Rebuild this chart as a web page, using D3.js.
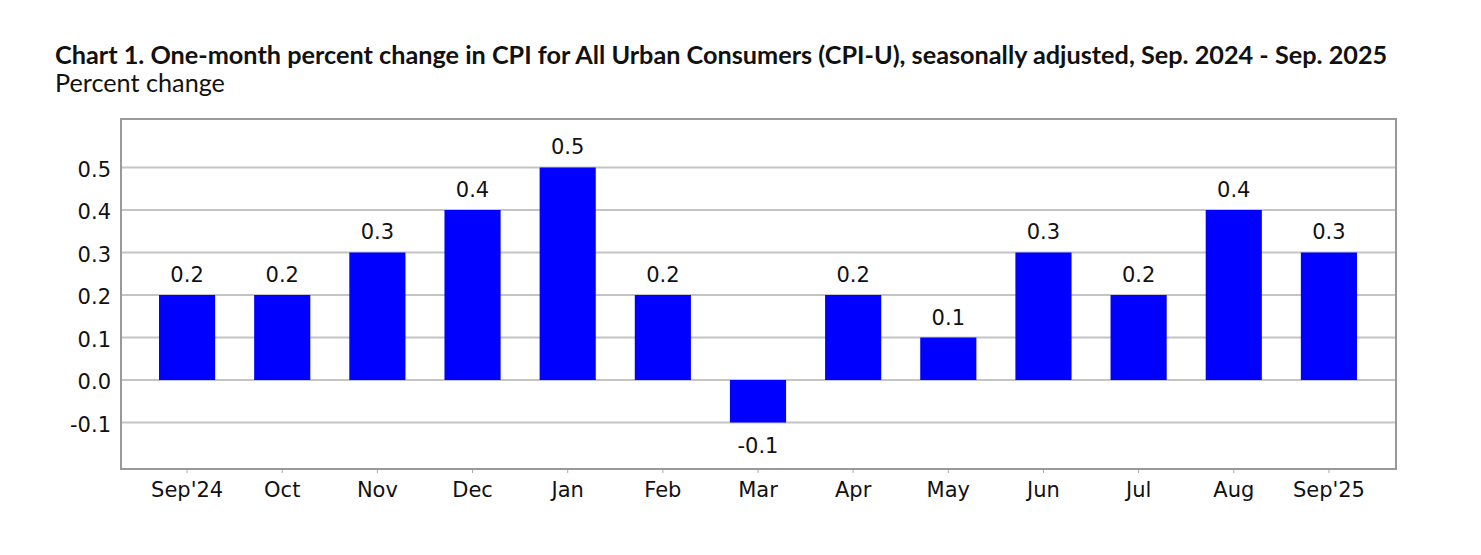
<!DOCTYPE html>
<html>
<head>
<meta charset="utf-8">
<script src="https://cdn.jsdelivr.net/npm/d3@7"></script>
<style>
  body { margin: 0; background: #fff; }
</style>
</head>
<body>
<div id="viz"></div>
<script>
const months = ["Sep'24", "Oct", "Nov", "Dec", "Jan", "Feb", "Mar", "Apr", "May", "Jun", "Jul", "Aug", "Sep'25"];
const values = [0.2, 0.2, 0.3, 0.4, 0.5, 0.2, -0.1, 0.2, 0.1, 0.3, 0.2, 0.4, 0.3];
const yTicks = [-0.1, 0.0, 0.1, 0.2, 0.3, 0.4, 0.5];

function draw() {
  let width = 1481, height = 555;
  let plotL = 121, plotR = 1396, plotT = 119, plotB = 469;
  let font = "DejaVu Sans", fsize = "21px";

  let svg = d3.select("#viz").append("svg")
    .attr("width", width).attr("height", height);

  let x = d3.scaleBand().domain(months)
    .range([139.5, 1376.5]).paddingInner(0.41).paddingOuter(0.205);
  // 0.1 = 42.5px, 0.0 at y=380
  let y = d3.scaleLinear().domain([-0.2094, 0.6141]).range([plotB, plotT]);

  // title, fitted to the reference width
  let title = svg.append("text").text("Chart 1. One-month percent change in CPI for All Urban Consumers (CPI-U), seasonally adjusted, Sep. 2024 - Sep. 2025")
    .attr("x", 55).attr("y", 64)
    .style("font-family", "Lato")
    .style("font-weight", "bold")
    .style("font-size", "20px")
    .style("fill", "#111");
  let tw = title.node().getComputedTextLength();
  title.style("font-size", (20 * 1333 / tw) + "px");

  let sub = svg.append("text").text("Percent change")
    .attr("x", 55).attr("y", 92)
    .style("font-family", "Lato")
    .style("font-size", "20px")
    .style("fill", "#111");
  let sw = sub.node().getComputedTextLength();
  sub.style("font-size", (20 * 170 / sw) + "px");

  // gridlines
  svg.append("g").selectAll("line").data(yTicks).join("line")
    .attr("x1", plotL).attr("x2", plotR)
    .attr("y1", d => y(d)).attr("y2", d => y(d))
    .attr("stroke", "#c4c4c4").attr("stroke-width", 2);

  // bars
  svg.append("g").selectAll("rect").data(values).join("rect")
    .attr("x", (d, i) => x(months[i]))
    .attr("width", x.bandwidth())
    .attr("y", d => y(Math.max(0, d)))
    .attr("height", d => Math.abs(y(d) - y(0)))
    .style("fill", "#0000ff");

  // value labels
  svg.append("g").selectAll("text").data(values).join("text")
    .text(d => d.toFixed(1))
    .attr("x", (d, i) => x(months[i]) + x.bandwidth() / 2)
    .attr("y", d => d >= 0 ? y(d) - 13 : y(d) + 30)
    .attr("text-anchor", "middle")
    .style("font-family", font)
    .style("font-size", fsize)
    .style("fill", "#111");

  // plot border
  svg.append("rect")
    .attr("x", plotL).attr("y", plotT)
    .attr("width", plotR - plotL).attr("height", plotB - plotT)
    .style("fill", "none")
    .attr("stroke", "#999").attr("stroke-width", 2);

  // y axis labels
  let yAxis = d3.axisLeft(y).tickValues(yTicks).tickSize(0).tickPadding(10)
    .tickFormat(d => d.toFixed(1));
  let gy = svg.append("g").attr("transform", "translate(" + plotL + ",0)").call(yAxis);
  gy.select(".domain").remove();
  gy.selectAll("text")
    .attr("dy", "0.42em")
    .style("font-family", font)
    .style("font-size", fsize)
    .style("fill", "#111");

  // x axis
  let xAxis = d3.axisBottom(x).tickSize(3).tickPadding(9);
  let gx = svg.append("g").attr("transform", "translate(0," + (plotB + 1) + ")").call(xAxis);
  gx.select(".domain").remove();
  gx.selectAll("line").attr("stroke", "#aaa");
  gx.selectAll("text")
    .style("font-family", font)
    .style("font-size", fsize)
    .style("fill", "#111");
}
draw();
</script>
</body>
</html>
